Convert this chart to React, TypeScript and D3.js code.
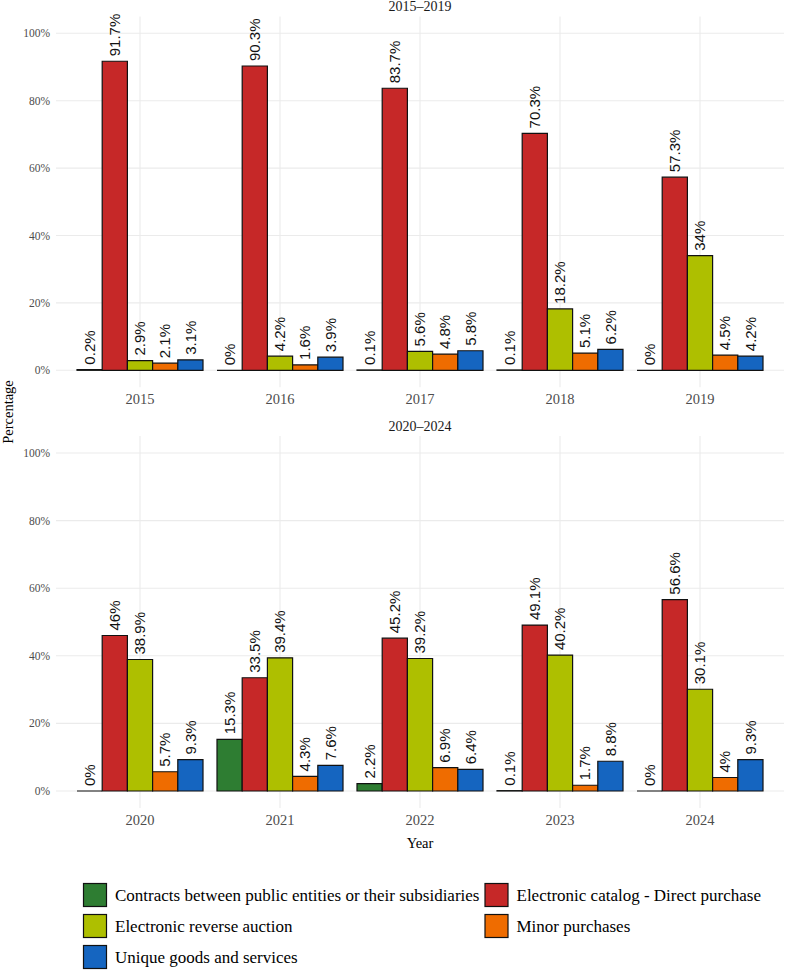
import React from "react";
import * as d3 from "d3";

const years1 = ["2015", "2016", "2017", "2018", "2019"];
const years2 = ["2020", "2021", "2022", "2023", "2024"];
const panelTitles = ["2015–2019", "2020–2024"];
const seriesNames = [
  "Contracts between public entities or their subsidiaries",
  "Electronic catalog - Direct purchase",
  "Electronic reverse auction",
  "Minor purchases",
  "Unique goods and services",
];
const seriesColors = ["#2E7D32", "#C62828", "#AEBF00", "#EF6C00", "#1565C0"];
// values per year 2015..2024
const contracts = [0.2, 0, 0.1, 0.1, 0, 0, 15.3, 2.2, 0.1, 0];
const catalog = [91.7, 90.3, 83.7, 70.3, 57.3, 46, 33.5, 45.2, 49.1, 56.6];
const auction = [2.9, 4.2, 5.6, 18.2, 34, 38.9, 39.4, 39.2, 40.2, 30.1];
const minor = [2.1, 1.6, 4.8, 5.1, 4.5, 5.7, 4.3, 6.9, 1.7, 4];
const unique = [3.1, 3.9, 5.8, 6.2, 4.2, 9.3, 7.6, 6.4, 8.8, 9.3];
const yTicks = [0, 20, 40, 60, 80, 100];

const seriesValues = [contracts, catalog, auction, minor, unique];

const W = 785;
const H = 970;
const panelLeft = 56;
const panelRight = 784;
const serif = "'Liberation Serif', 'Times New Roman', serif";
const sans = "'Liberation Sans', Arial, sans-serif";

const panels = [
  { years: years1, offset: 0, y0: 370.3, y100: 33.3, title: panelTitles[0] },
  { years: years2, offset: 5, y0: 791, y100: 453, title: panelTitles[1] },
];

function Panel({ p }: { p: (typeof panels)[number] }) {
  const x = d3.scalePoint<string>().domain(p.years).range([panelLeft, panelRight]).padding(0.6);
  const step = x.step();
  const inner = d3
    .scaleBand<string>()
    .domain(seriesNames)
    .range([-0.45 * step, 0.45 * step])
    .padding(0);
  const y = d3.scaleLinear().domain([0, 100]).range([p.y0, p.y100]);
  const top = y(105);
  const bottom = y(-5);
  const bw = inner.bandwidth();
  return (
    <g>
      <text x={(panelLeft + panelRight) / 2} y={top - 5} textAnchor="middle" fontFamily={serif} fontSize={14} fill="#1a1a1a">
        {p.title}
      </text>
      {yTicks.map((t) => (
        <line key={"h" + t} x1={panelLeft} x2={panelRight} y1={y(t)} y2={y(t)} stroke="#ebebeb" strokeWidth={1.1} />
      ))}
      {p.years.map((yr) => (
        <line key={"v" + yr} x1={x(yr)} x2={x(yr)} y1={top} y2={bottom} stroke="#ebebeb" strokeWidth={1.1} />
      ))}
      {yTicks.map((t) => (
        <text key={"yt" + t} x={50} y={y(t)} dy="0.35em" textAnchor="end" fontFamily={serif} fontSize={11.5} fill="#4d4d4d">
          {t + "%"}
        </text>
      ))}
      {p.years.map((yr) => (
        <text key={"xt" + yr} x={x(yr)} y={bottom + 17} textAnchor="middle" fontFamily={serif} fontSize={14.5} fill="#4d4d4d">
          {yr}
        </text>
      ))}
      {p.years.map((yr, i) =>
        seriesNames.map((s, k) => {
          const v = seriesValues[k][p.offset + i];
          const bx = (x(yr) as number) + (inner(s) as number);
          const by = y(v);
          const h = y(0) - by;
          return (
            <g key={yr + s}>
              <path
                d={`M${bx},${by}h${bw}v${h}h${-bw}Z`}
                fill={seriesColors[k]}
                stroke="#111"
                strokeWidth={1.2}
              />
              <text
                transform={`translate(${bx + bw / 2},${by - 5}) rotate(-90)`}
                dy="0.35em"
                textAnchor="start"
                fontFamily={sans}
                fontSize={15}
                fill="#111"
              >
                {v + "%"}
              </text>
            </g>
          );
        })
      )}
    </g>
  );
}

export default function App() {
  const legendCols = [83.5, 485];
  const legendRows = [895, 926, 957];
  const key = 23;
  return (
    <svg width={W} height={H} style={{ position: "absolute", left: 0, top: 0, background: "#fff" }}>
      <rect x={0} y={0} width={W} height={H} fill="#fff" />
      {panels.map((p) => (
        <Panel key={p.title} p={p} />
      ))}
      <text transform={`translate(13,412) rotate(-90)`} textAnchor="middle" fontFamily={serif} fontSize={14.5} fill="#000">
        Percentage
      </text>
      <text x={420} y={848} textAnchor="middle" fontFamily={serif} fontSize={14.5} fill="#000">
        Year
      </text>
      {seriesNames.map((s, k) => {
        const col = k % 2;
        const row = Math.floor(k / 2);
        const kx = legendCols[col];
        const cy = legendRows[row];
        return (
          <g key={"lg" + s}>
            <rect x={kx} y={cy - key / 2} width={key} height={key} fill={seriesColors[k]} stroke="#111" strokeWidth={1.2} />
            <text x={kx + key + 8.5} y={cy} dy="0.33em" fontFamily={serif} fontSize={17} fill="#000">
              {s}
            </text>
          </g>
        );
      })}
    </svg>
  );
}
